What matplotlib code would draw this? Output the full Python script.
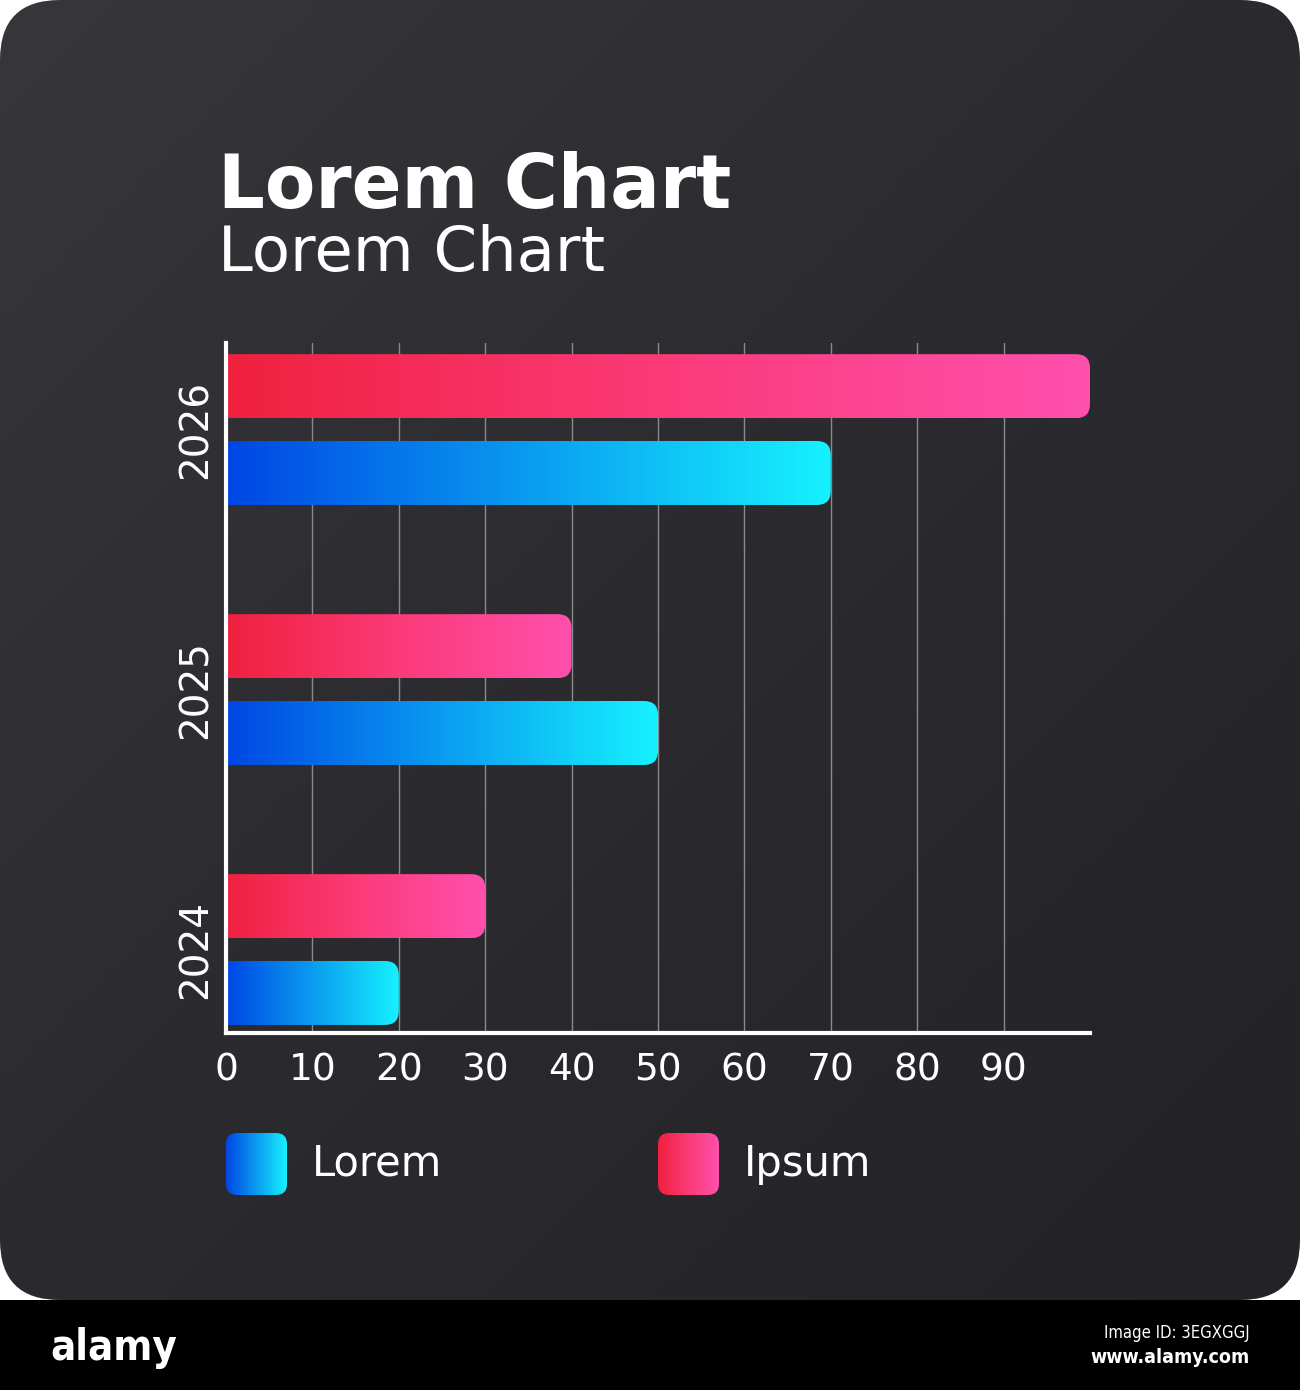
import matplotlib.pyplot as plt
import numpy as np
from matplotlib.colors import LinearSegmentedColormap
from matplotlib.patches import FancyBboxPatch, PathPatch, Rectangle
from matplotlib.path import Path

# Data
years = ["2026", "2025", "2024"]
lorem = [70, 50, 20]
ipsum = [100, 40, 30]
x_ticks = list(range(0, 100, 10))
series_names = ["Lorem", "Ipsum"]

plt.rcParams["font.family"] = "DejaVu Sans"

blue_cmap = LinearSegmentedColormap.from_list("blue", ["#0046e4", "#0a9cf0", "#16f2ff"])
pink_cmap = LinearSegmentedColormap.from_list("pink", ["#f0213f", "#fb3a78", "#ff50ae"])
card_cmap = LinearSegmentedColormap.from_list("card", ["#37363b", "#2b2a2f", "#232226"])

W, H = 1300, 1390
fig = plt.figure(figsize=(13, 13.9), dpi=100)
fig.patch.set_facecolor("white")

# background layer in pixel coordinates
bg = fig.add_axes([0, 0, 1, 1])
bg.set_xlim(0, W)
bg.set_ylim(H, 0)
bg.axis("off")

card = FancyBboxPatch((0, 0), 1300, 1300, boxstyle="round,pad=0,rounding_size=60",
                      facecolor="none", edgecolor="none")
bg.add_patch(card)
gx, gy = np.meshgrid(np.linspace(0, 1, 200), np.linspace(0, 1, 200))
grad = (gx + gy) / 2
im = bg.imshow(grad, cmap=card_cmap, extent=(0, 1300, 1300, 0), aspect="auto", zorder=0)
im.set_clip_path(card)
bg.add_patch(Rectangle((0, 1300), 1300, 90, facecolor="black", edgecolor="none", zorder=1))

bg.text(218, 208, "Lorem Chart", fontsize=53, fontweight="bold", color="white", va="baseline")
bg.text(218, 271, "Lorem Chart", fontsize=45, color="white", va="baseline")

# legend swatches
hgrad = np.linspace(0, 1, 256).reshape(1, -1)
for x0, cmap, name in [(226, blue_cmap, series_names[0]), (658, pink_cmap, series_names[1])]:
    sw = FancyBboxPatch((x0, 1133), 61, 62, boxstyle="round,pad=0,rounding_size=11",
                        facecolor="none", edgecolor="none")
    bg.add_patch(sw)
    s = bg.imshow(hgrad, cmap=cmap, extent=(x0, x0 + 61, 1195, 1133), aspect="auto", zorder=2)
    s.set_clip_path(sw)
    bg.text(x0 + 86, 1164, name, fontsize=30, color="white", va="center", ha="left")

# footer
bg.text(50, 1360, "alamy", fontsize=30, fontweight="bold", fontstretch="condensed",
        color="white", va="baseline", zorder=3)
bg.text(1250, 1338, "Image ID: 3EGXGGJ", fontsize=12, fontstretch="condensed", color="white",
        ha="right", va="baseline", zorder=3)
bg.text(1250, 1363, "www.alamy.com", fontsize=14, fontweight="bold", fontstretch="condensed",
        color="white", ha="right", va="baseline", zorder=3)
bg.set_xlim(0, W)
bg.set_ylim(H, 0)

# chart axes
ax = fig.add_axes([226 / W, (H - 1033) / H, 864 / W, 690 / H])
ax.patch.set_alpha(0)

bar_h = 64 / 260
offset = 0.167
rx, ry = 14 / 8.64, 14 / 260


def right_rounded(x0, x1, y0, y1):
    verts = [(x0, y0), (x1 - rx, y0), (x1, y0), (x1, y0 + ry), (x1, y1 - ry),
             (x1, y1), (x1 - rx, y1), (x0, y1), (x0, y0)]
    codes = [Path.MOVETO, Path.LINETO, Path.CURVE3, Path.CURVE3, Path.LINETO,
             Path.CURVE3, Path.CURVE3, Path.LINETO, Path.CLOSEPOLY]
    return Path(verts, codes)


for i in range(len(years)):
    for val, cmap, yc in [(ipsum[i], pink_cmap, i - offset), (lorem[i], blue_cmap, i + offset)]:
        y0, y1 = yc - bar_h / 2, yc + bar_h / 2
        clip = PathPatch(right_rounded(-2, val, y0, y1), transform=ax.transData,
                         facecolor="none", edgecolor="none")
        b = ax.imshow(hgrad, cmap=cmap, extent=(0, val, y1, y0), aspect="auto", zorder=2)
        b.set_clip_path(clip)

ax.set_xlim(0, 100)
ax.set_ylim(2.321, -0.333)
ax.set_xticks(x_ticks)
ax.set_yticks(range(len(years)))
ax.set_yticklabels(years, rotation=90, va="center")
ax.tick_params(axis="x", length=0, pad=14, labelsize=27, labelcolor="white")
ax.tick_params(axis="y", length=0, pad=8, labelsize=28, labelcolor="white")
ax.grid(axis="x", color="#8a8a8a", linewidth=1)
ax.set_axisbelow(True)
for side in ["top", "right"]:
    ax.spines[side].set_visible(False)
for side in ["left", "bottom"]:
    ax.spines[side].set_color("white")
    ax.spines[side].set_linewidth(3)
    ax.spines[side].set_zorder(3)

fig.savefig("out.png", dpi=100)
